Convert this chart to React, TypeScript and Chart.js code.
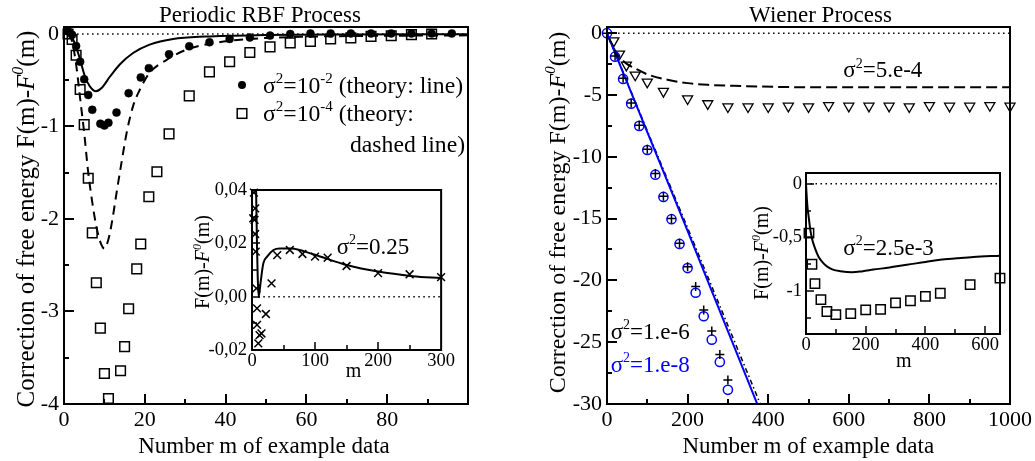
import React, { useEffect, useRef } from "react";
import { Chart, registerables } from "chart.js";

Chart.register(...registerables);

const FONT = "'Liberation Serif', 'Times New Roman', Times, serif";

// ---------------- Left panel: Periodic RBF Process ----------------
const rbfM_s2 = [1, 2, 3, 4, 5, 6, 7, 9, 10, 11, 13, 16, 19, 21, 26, 31, 36, 41, 46, 51, 56, 61, 66, 71, 76, 81, 86, 91, 96];
const rbfF_s2 = [0.03, -0.01, -0.13, -0.3, -0.49, -0.66, -0.82, -0.97, -0.99, -0.96, -0.85, -0.64, -0.47, -0.37, -0.22, -0.134, -0.09, -0.054, -0.038, -0.018, 0.0, 0.005, 0.005, 0.005, 0.005, 0.005, 0.005, 0.005, 0.005];
const rbfM_s4 = [1, 2, 3, 4, 5, 6, 7, 8, 9, 10, 11, 14, 15, 16, 18, 19, 21, 23, 26, 31, 36, 41, 46, 51, 56, 61, 66, 71, 76, 81, 86, 91];
const rbfF_s4 = [0.0, -0.06, -0.23, -0.6, -0.98, -1.56, -2.15, -2.69, -3.18, -3.67, -3.94, -3.64, -3.38, -2.97, -2.54, -2.27, -1.76, -1.49, -1.08, -0.67, -0.41, -0.3, -0.2, -0.14, -0.097, -0.08, -0.054, -0.043, -0.026, -0.019, -0.008, 0.0];
const rbfTheoryM_s2 = [1, 2, 3, 4, 5.2, 6.4, 7.9, 9.3, 11.4, 13.8, 17.1, 21.2, 27, 35, 50, 70, 100];
const rbfTheoryF_s2 = [0, -0.04, -0.14, -0.28, -0.46, -0.567, -0.62, -0.585, -0.46, -0.33, -0.206, -0.116, -0.054, -0.028, -0.012, -0.006, -0.003];
const rbfTheoryM_s4 = [1, 2, 3, 4, 5, 6, 7, 8, 9, 10, 11, 12, 13, 14.2, 15.5, 17.1, 18.8, 21.2, 25.4, 30.3, 36.9, 46, 60, 80, 100];
const rbfTheoryF_s4 = [0, -0.08, -0.33, -0.7, -1.07, -1.5, -1.82, -2.08, -2.25, -2.32, -2.22, -2.0, -1.72, -1.4, -1.07, -0.78, -0.6, -0.42, -0.28, -0.17, -0.1, -0.055, -0.03, -0.02, -0.015];
const rbfZeroM = [2, 100];
const rbfZeroF = [0, 0];
const rbfXTicks = [0, 20, 40, 60, 80];
const rbfXTickLabels = ["0", "20", "40", "60", "80"];
const rbfXMinor = [10, 30, 50, 70, 90];
const rbfYTicks = [-4, -3, -2, -1, 0];
const rbfYTickLabels = ["-4", "-3", "-2", "-1", "0"];
const rbfYMinor = [-3.5, -2.5, -1.5, -0.5];

// Left inset (sigma^2 = 0.25)
const rbfInsetM = [2, 3, 4, 5, 5, 6, 7, 8, 8, 10, 12, 15, 22, 31, 40, 60, 80, 100, 120, 150, 200, 250, 300];
const rbfInsetF = [0.0294, 0.039, 0.0288, 0.0331, 0.0235, 0.0169, 0.0031, -0.0044, -0.0106, -0.0175, -0.0144, -0.0138, -0.0065, 0.005, 0.0156, 0.0175, 0.016, 0.015, 0.0146, 0.0115, 0.0088, 0.0084, 0.0073];
const rbfInsetTheoryM = [5, 6.5, 8, 9, 10.5, 12, 14, 18, 24, 34, 44, 62, 97, 150, 200, 255, 300];
const rbfInsetTheoryF = [0.06, 0.04, 0.018, 0.008, 0.0, 0.002, 0.006, 0.0125, 0.015, 0.0175, 0.0181, 0.0181, 0.0159, 0.0119, 0.0094, 0.0077, 0.0069];
const rbfInsetZeroM = [10, 300];
const rbfInsetZeroF = [0, 0];
const rbfInsetXTicks = [0, 100, 200, 300];
const rbfInsetXTickLabels = ["0", "100", "200", "300"];
const rbfInsetXMinor = [50, 150, 250];
const rbfInsetYTicks = [-0.02, 0, 0.02, 0.04];
const rbfInsetYTickLabels = ["-0,02", "0,00", "0,02", "0,04"];
const rbfInsetYMinor = [-0.01, 0.01, 0.03];

// ---------------- Right panel: Wiener Process ----------------
const wienerM_s8 = [0, 20, 40, 60, 80, 100, 120, 140, 160, 180, 200, 220, 240, 260, 280, 300];
const wienerF_s8 = [0, -1.9, -3.7, -5.7, -7.5, -9.45, -11.45, -13.25, -15.05, -17.05, -19.0, -21.0, -22.9, -24.8, -26.6, -28.85];
const wienerM_s6 = [0, 20, 40, 60, 80, 100, 120, 140, 160, 180, 200, 220, 240, 260, 280, 300];
const wienerF_s6 = [0, -1.85, -3.65, -5.65, -7.45, -9.4, -11.35, -13.2, -15.0, -17.0, -18.9, -20.5, -22.4, -24.1, -26.0, -28.05];
const wienerM_s54 = [17, 31, 48, 70, 100, 140, 200, 250, 300, 350, 400, 450, 500, 550, 600, 650, 700, 750, 800, 850, 900, 950, 1000];
const wienerF_s54 = [-0.62, -1.68, -2.58, -3.38, -3.95, -4.7, -5.3, -5.7, -5.95, -5.95, -5.95, -5.9, -5.95, -5.85, -5.9, -5.9, -5.9, -5.95, -5.85, -5.9, -5.9, -5.85, -5.9];
const wienerTheoryM_s54 = [0, 10, 20, 33, 50, 70, 100, 150, 200, 250, 315, 380, 450, 600, 800, 1000];
const wienerTheoryF_s54 = [0, -0.8, -1.4, -2.0, -2.5, -2.85, -3.33, -3.77, -4.04, -4.18, -4.26, -4.32, -4.36, -4.38, -4.38, -4.37];
const wienerTheoryM_s8 = [0, 100, 200, 300, 400];
const wienerTheoryF_s8 = [0, -8.0, -16.0, -24.1, -32.2];
const wienerTheoryM_s6 = [0, 100, 200, 300, 400];
const wienerTheoryF_s6 = [0, -7.9, -15.75, -23.65, -31.55];
const wienerZeroM = [15, 1000];
const wienerZeroF = [0, 0];
const wienerXTicks = [0, 200, 400, 600, 800, 1000];
const wienerXTickLabels = ["0", "200", "400", "600", "800", "1000"];
const wienerXMinor = [100, 300, 500, 700, 900];
const wienerYTicks = [-30, -25, -20, -15, -10, -5, 0];
const wienerYTickLabels = ["-30", "-25", "-20", "-15", "-10", "-5", "0"];
const wienerYMinor = [-27.5, -22.5, -17.5, -12.5, -7.5, -2.5];

// Right inset (sigma^2 = 2.5e-3)
const wienerInsetM = [10, 20, 30, 50, 70, 100, 150, 200, 250, 300, 350, 400, 450, 550, 650];
const wienerInsetF = [-0.46, -0.75, -0.93, -1.08, -1.19, -1.22, -1.21, -1.175, -1.17, -1.11, -1.09, -1.05, -1.02, -0.94, -0.88];
const wienerInsetTheoryM = [0, 2, 5, 9, 14, 20, 30, 42, 55, 70, 90, 115, 154, 190, 226, 280, 338, 400, 449, 505, 561, 650];
const wienerInsetTheoryF = [0, -0.1, -0.22, -0.31, -0.42, -0.51, -0.6, -0.68, -0.73, -0.77, -0.8, -0.815, -0.825, -0.815, -0.8, -0.78, -0.754, -0.73, -0.708, -0.695, -0.683, -0.67];
const wienerInsetZeroM = [15, 650];
const wienerInsetZeroF = [0, 0];
const wienerInsetXTicks = [0, 200, 400, 600];
const wienerInsetXTickLabels = ["0", "200", "400", "600"];
const wienerInsetXMinor = [100, 300, 500];
const wienerInsetYTicks = [-1, -0.5, 0];
const wienerInsetYTickLabels = ["-1", "-0,5", "0"];
const wienerInsetYMinor = [-1.25, -0.75, -0.25];

// ---------------- helpers ----------------
type Seg = { t: string; sup?: boolean; it?: boolean; color?: string };

const pts = (xs: number[], ys: number[]) => xs.map((x, i) => ({ x, y: ys[i] }));

function drawRich(
  ctx: CanvasRenderingContext2D,
  segs: Seg[],
  x: number,
  y: number,
  size: number,
  align: "left" | "center",
  rot = 0,
  color = "#000"
) {
  ctx.save();
  ctx.translate(x, y);
  if (rot) ctx.rotate(rot);
  const fontFor = (s: Seg) => `${s.it ? "italic " : ""}${s.sup ? Math.round(size * 0.62) : size}px ${FONT}`;
  let total = 0;
  for (const s of segs) {
    ctx.font = fontFor(s);
    total += ctx.measureText(s.t).width;
  }
  let cx = align === "center" ? -total / 2 : 0;
  ctx.textBaseline = "alphabetic";
  ctx.textAlign = "left";
  for (const s of segs) {
    ctx.font = fontFor(s);
    ctx.fillStyle = s.color || color;
    ctx.fillText(s.t, cx, s.sup ? -size * 0.42 : 0);
    cx += ctx.measureText(s.t).width;
  }
  ctx.restore();
}

type TickSpec = {
  xMajor: number[];
  xMinor: number[];
  yMajor: number[];
  yMinor: number[];
  major: number;
  minor: number;
  width: number;
  frame: number;
};

function makeDecor(
  off: [number, number],
  spec: TickSpec,
  drawTexts: (ctx: CanvasRenderingContext2D) => void,
  whiteBg: boolean
) {
  return {
    id: "decor",
    beforeDraw(chart: any) {
      if (!whiteBg) return;
      const { ctx, chartArea: a } = chart;
      ctx.save();
      ctx.fillStyle = "#fff";
      ctx.fillRect(a.left, a.top, a.right - a.left, a.bottom - a.top);
      ctx.restore();
    },
    afterDatasetsDraw(chart: any) {
      const { ctx, chartArea: a, scales } = chart;
      ctx.save();
      ctx.strokeStyle = "#000";
      ctx.lineWidth = spec.width;
      ctx.setLineDash([]);
      ctx.beginPath();
      const xs = (vals: number[], len: number) => {
        for (const v of vals) {
          const p = Math.round(scales.x.getPixelForValue(v));
          ctx.moveTo(p, a.bottom);
          ctx.lineTo(p, a.bottom - len);
        }
      };
      const ys = (vals: number[], len: number) => {
        for (const v of vals) {
          const p = Math.round(scales.y.getPixelForValue(v));
          ctx.moveTo(a.left, p);
          ctx.lineTo(a.left + len, p);
        }
      };
      xs(spec.xMajor, spec.major);
      xs(spec.xMinor, spec.minor);
      ys(spec.yMajor, spec.major);
      ys(spec.yMinor, spec.minor);
      ctx.stroke();
      ctx.lineWidth = spec.frame;
      ctx.strokeRect(a.left, a.top, a.right - a.left, a.bottom - a.top);
      ctx.restore();
    },
    afterDraw(chart: any) {
      const ctx = chart.ctx as CanvasRenderingContext2D;
      ctx.save();
      ctx.translate(-off[0], -off[1]);
      drawTexts(ctx);
      ctx.restore();
    },
  };
}

function axis(
  min: number,
  max: number,
  ticks: number[],
  labels: string[],
  fixed: number,
  isX: boolean,
  fontSize: number,
  pad: number
) {
  return {
    type: "linear",
    min,
    max,
    grid: { display: false, drawTicks: false },
    border: { display: false },
    afterBuildTicks: (s: any) => {
      s.ticks = ticks.map((v) => ({ value: v }));
    },
    afterFit: (s: any) => {
      if (isX) s.height = fixed;
      else s.width = fixed;
    },
    ticks: {
      autoSkip: false,
      maxRotation: 0,
      minRotation: 0,
      padding: pad,
      color: "#000",
      font: { family: FONT, size: fontSize },
      callback: (_v: any, i: number) => labels[i],
    },
  };
}

const markers = (xs: number[], ys: number[], style: any) => ({
  data: pts(xs, ys),
  showLine: false,
  clip: false,
  ...style,
});
const curve = (xs: number[], ys: number[], style: any) => ({
  data: pts(xs, ys),
  showLine: true,
  pointRadius: 0,
  pointHoverRadius: 0,
  cubicInterpolationMode: "monotone",
  fill: false,
  ...style,
});

function baseConfig(datasets: any[], padding: any, x: any, y: any, plugin: any) {
  return {
    type: "scatter",
    data: { datasets },
    options: {
      responsive: false,
      animation: false,
      events: [],
      layout: { padding },
      plugins: { legend: { display: false }, tooltip: { enabled: false }, title: { display: false } },
      scales: { x, y },
    },
    plugins: [plugin],
  } as any;
}

const NONE = "rgba(0,0,0,0)";
const BLUE = "#0000ff";
const Y_TITLE: Seg[] = [{ t: "Correction of free energy F(m)-" }, { t: "F", it: true }, { t: "0", sup: true, it: true }, { t: "(m)" }];
const INSET_Y_TITLE: Seg[] = [{ t: "F(m)-" }, { t: "F", it: true }, { t: "0", sup: true, it: true }, { t: "(m)" }];
const X_TITLE = "Number m of example data";

// layout (page coordinates)
const L = { left: 0, top: 0, w: 520, h: 461 };
const R = { left: 520, top: 0, w: 515, h: 461 };
const LI = { left: 170, top: 170, w: 285, h: 215 };
const RI = { left: 730, top: 150, w: 290, h: 225 };

function leftConfig() {
  const datasets = [
    markers(rbfM_s2, rbfF_s2, { pointStyle: "circle", pointRadius: 4, borderColor: "#000", backgroundColor: "#000", pointBorderWidth: 0.5, borderWidth: 0.5 }),
    markers(rbfM_s4, rbfF_s4, { pointStyle: "rect", pointRadius: 6.8, borderColor: "#000", backgroundColor: NONE, pointBorderWidth: 1.5, borderWidth: 1.5 }),
    curve(rbfTheoryM_s2, rbfTheoryF_s2, { borderColor: "#000", borderWidth: 2 }),
    curve(rbfTheoryM_s4, rbfTheoryF_s4, { borderColor: "#000", borderWidth: 2, borderDash: [9, 6] }),
    curve(rbfZeroM, rbfZeroF, { borderColor: "#000", borderWidth: 1.5, borderDash: [1.5, 3.5] }),
  ];
  const texts = (ctx: CanvasRenderingContext2D) => {
    drawRich(ctx, [{ t: "Periodic RBF Process" }], 260, 21.5, 23, "center");
    drawRich(ctx, [{ t: X_TITLE }], 264, 453, 23, "center");
    drawRich(ctx, Y_TITLE, 33.5, 219, 25, "center", -Math.PI / 2);
    // legend
    ctx.save();
    ctx.fillStyle = "#000";
    ctx.beginPath();
    ctx.arc(242, 85, 4, 0, Math.PI * 2);
    ctx.fill();
    ctx.strokeStyle = "#000";
    ctx.lineWidth = 1.5;
    ctx.strokeRect(237.2, 108.7, 9.6, 9.6);
    ctx.restore();
    drawRich(ctx, [{ t: "σ" }, { t: "2", sup: true }, { t: "=10" }, { t: "-2", sup: true }, { t: " (theory: line)" }], 263, 93, 23.7, "left");
    drawRich(ctx, [{ t: "σ" }, { t: "2", sup: true }, { t: "=10" }, { t: "-4", sup: true }, { t: " (theory:" }], 263, 121, 23.7, "left");
    drawRich(ctx, [{ t: "dashed line)" }], 350, 152, 23.7, "left");
  };
  const plugin = makeDecor(
    [L.left, L.top],
    { xMajor: rbfXTicks.slice(1), xMinor: rbfXMinor, yMajor: rbfYTicks.slice(1), yMinor: rbfYMinor, major: 10, minor: 5, width: 2, frame: 2 },
    texts,
    false
  );
  return baseConfig(
    datasets,
    { top: 27, right: 52, left: 0, bottom: 0 },
    axis(0, 100, rbfXTicks, rbfXTickLabels, 57, true, 22, 3),
    axis(-4, 0.075, rbfYTicks, rbfYTickLabels, 64, false, 22, 5),
    plugin
  );
}

function leftInsetConfig() {
  const datasets = [
    markers(rbfInsetM, rbfInsetF, { pointStyle: "crossRot", pointRadius: 5.5, borderColor: "#000", backgroundColor: NONE, pointBorderWidth: 1.5, borderWidth: 1.5 }),
    curve(rbfInsetTheoryM, rbfInsetTheoryF, { borderColor: "#000", borderWidth: 2 }),
    curve(rbfInsetZeroM, rbfInsetZeroF, { borderColor: "#000", borderWidth: 1.5, borderDash: [1.5, 3.5] }),
  ];
  const texts = (ctx: CanvasRenderingContext2D) => {
    drawRich(ctx, INSET_Y_TITLE, 209, 262, 20, "center", -Math.PI / 2);
    drawRich(ctx, [{ t: "m" }], 353.5, 377, 20, "center");
    drawRich(ctx, [{ t: "σ" }, { t: "2", sup: true }, { t: "=0.25" }], 336.7, 254, 23, "left");
  };
  const plugin = makeDecor(
    [LI.left, LI.top],
    { xMajor: [100, 200], xMinor: rbfInsetXMinor, yMajor: [0, 0.02], yMinor: rbfInsetYMinor, major: 8, minor: 5, width: 1.5, frame: 2 },
    texts,
    true
  );
  return baseConfig(
    datasets,
    { top: 20, right: 13, left: 0, bottom: 0 },
    axis(0, 300, rbfInsetXTicks, rbfInsetXTickLabels, 35, true, 18.5, 0),
    axis(-0.02, 0.04, rbfInsetYTicks, rbfInsetYTickLabels, 82, false, 18.5, 5),
    plugin
  );
}

function rightConfig() {
  const datasets = [
    markers(wienerM_s6, wienerF_s6, { pointStyle: "cross", pointRadius: 4.5, borderColor: "#000", backgroundColor: NONE, pointBorderWidth: 1.5, borderWidth: 1.5 }),
    markers(wienerM_s8, wienerF_s8, { pointStyle: "circle", pointRadius: 4.6, borderColor: BLUE, backgroundColor: NONE, pointBorderWidth: 1.5, borderWidth: 1.5 }),
    markers(wienerM_s54, wienerF_s54, { pointStyle: "triangle", pointRotation: 180, pointRadius: 5.8, borderColor: "#000", backgroundColor: NONE, pointBorderWidth: 1.3, borderWidth: 1.3 }),
    curve(wienerTheoryM_s8, wienerTheoryF_s8, { borderColor: BLUE, borderWidth: 2, cubicInterpolationMode: "default", tension: 0 }),
    curve(wienerTheoryM_s6, wienerTheoryF_s6, { borderColor: "#000", borderWidth: 1.5, borderDash: [5, 3, 1.5, 3], cubicInterpolationMode: "default", tension: 0 }),
    curve(wienerTheoryM_s54, wienerTheoryF_s54, { borderColor: "#000", borderWidth: 2, borderDash: [11, 5] }),
    curve(wienerZeroM, wienerZeroF, { borderColor: "#000", borderWidth: 1.5, borderDash: [1.5, 3.5] }),
  ];
  const texts = (ctx: CanvasRenderingContext2D) => {
    drawRich(ctx, [{ t: "Wiener Process" }], 820.5, 21.5, 23, "center");
    drawRich(ctx, [{ t: X_TITLE }], 808.3, 453, 23, "center");
    drawRich(ctx, Y_TITLE, 565, 212.5, 24, "center", -Math.PI / 2);
    drawRich(ctx, [{ t: "σ" }, { t: "2", sup: true }, { t: "=5.e-4" }], 843.3, 77.3, 23, "left");
    drawRich(ctx, [{ t: "σ" }, { t: "2", sup: true }, { t: "=1.e-6" }], 610.7, 339, 23, "left");
    drawRich(ctx, [{ t: "σ" }, { t: "2", sup: true }, { t: "=1.e-8" }], 610.7, 371.7, 23, "left", 0, BLUE);
  };
  const plugin = makeDecor(
    [R.left, R.top],
    { xMajor: wienerXTicks.slice(1, -1), xMinor: wienerXMinor, yMajor: wienerYTicks.slice(1), yMinor: wienerYMinor, major: 10, minor: 5, width: 2, frame: 2 },
    texts,
    false
  );
  return baseConfig(
    datasets,
    { top: 27, right: 25, left: 0, bottom: 0 },
    axis(0, 1000, wienerXTicks, wienerXTickLabels, 57, true, 22, 3),
    axis(-30, 0.5, wienerYTicks, wienerYTickLabels, 87, false, 22, 5),
    plugin
  );
}

function rightInsetConfig() {
  const datasets = [
    markers(wienerInsetM, wienerInsetF, { pointStyle: "rect", pointRadius: 6.6, borderColor: "#000", backgroundColor: NONE, pointBorderWidth: 1.5, borderWidth: 1.5 }),
    curve(wienerInsetTheoryM, wienerInsetTheoryF, { borderColor: "#000", borderWidth: 2 }),
    curve(wienerInsetZeroM, wienerInsetZeroF, { borderColor: "#000", borderWidth: 1.5, borderDash: [1.5, 3.5] }),
  ];
  const texts = (ctx: CanvasRenderingContext2D) => {
    drawRich(ctx, INSET_Y_TITLE, 768, 253, 20, "center", -Math.PI / 2);
    drawRich(ctx, [{ t: "m" }], 903.7, 366.5, 20, "center");
    drawRich(ctx, [{ t: "σ" }, { t: "2", sup: true }, { t: "=2.5e-3" }], 843.3, 255, 23, "left");
  };
  const plugin = makeDecor(
    [RI.left, RI.top],
    { xMajor: [200, 400, 600], xMinor: wienerInsetXMinor, yMajor: wienerInsetYTicks, yMinor: wienerInsetYMinor, major: 8, minor: 5, width: 1.5, frame: 2 },
    texts,
    true
  );
  return baseConfig(
    datasets,
    { top: 23, right: 20, left: 0, bottom: 0 },
    axis(0, 650, wienerInsetXTicks, wienerInsetXTickLabels, 41, true, 18.5, 0),
    axis(-1.4, 0.1, wienerInsetYTicks, wienerInsetYTickLabels, 76, false, 18.5, 4),
    plugin
  );
}

const canvasStyle = (r: { left: number; top: number; w: number; h: number }): React.CSSProperties => ({
  position: "absolute",
  left: r.left,
  top: r.top,
  width: r.w,
  height: r.h,
});

export default function App() {
  const lRef = useRef<HTMLCanvasElement>(null);
  const rRef = useRef<HTMLCanvasElement>(null);
  const liRef = useRef<HTMLCanvasElement>(null);
  const riRef = useRef<HTMLCanvasElement>(null);

  useEffect(() => {
    const charts = [
      new Chart(lRef.current!, leftConfig()),
      new Chart(rRef.current!, rightConfig()),
      new Chart(liRef.current!, leftInsetConfig()),
      new Chart(riRef.current!, rightInsetConfig()),
    ];
    return () => charts.forEach((c) => c.destroy());
  }, []);

  return (
    <div style={{ position: "absolute", left: 0, top: 0, width: 1035, height: 461, background: "#fff", overflow: "hidden" }}>
      <canvas ref={lRef} width={L.w} height={L.h} style={canvasStyle(L)} />
      <canvas ref={rRef} width={R.w} height={R.h} style={canvasStyle(R)} />
      <canvas ref={liRef} width={LI.w} height={LI.h} style={canvasStyle(LI)} />
      <canvas ref={riRef} width={RI.w} height={RI.h} style={canvasStyle(RI)} />
    </div>
  );
}
